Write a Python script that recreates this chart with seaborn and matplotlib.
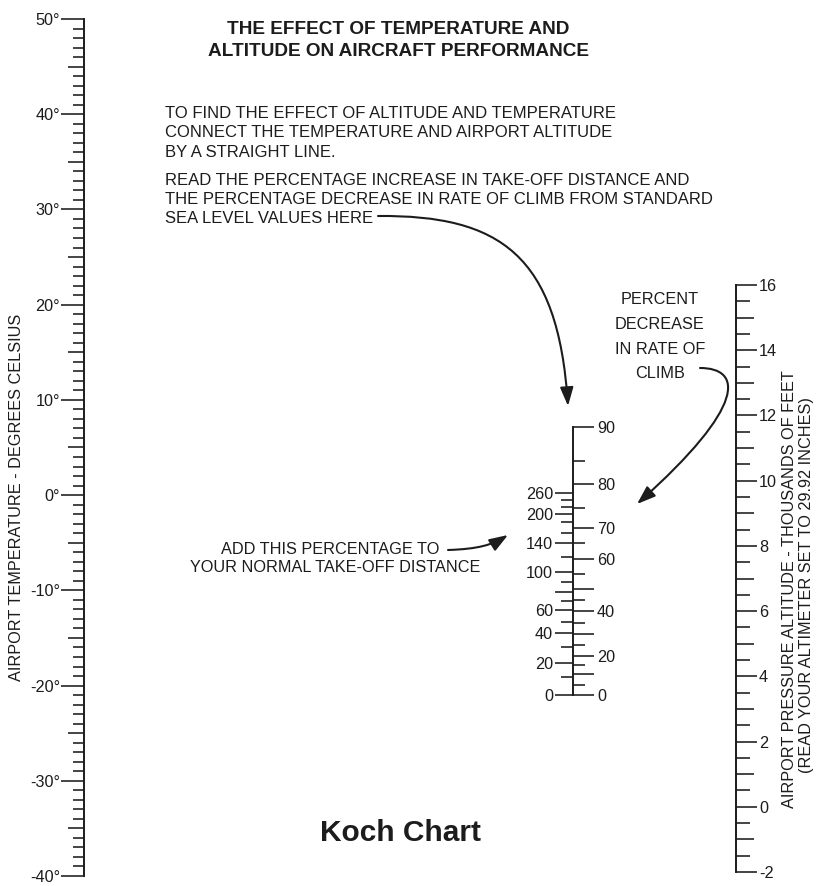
# Koch chart - effect of temperature and altitude on aircraft performance
import numpy as np
import matplotlib.pyplot as plt
import seaborn as sns
from matplotlib.patches import FancyArrowPatch
from matplotlib.path import Path

# ---- scale data ----
# left scale: airport temperature, degrees C
temp_major = [-40, -30, -20, -10, 0, 10, 20, 30, 40, 50]
temp_mid = [-35, -25, -15, -5, 5, 15, 25, 35, 45]
temp_minor = [t for t in range(-40, 51) if t % 5 != 0]

# right scale: pressure altitude, thousands of feet
alt_major = [-2, 0, 2, 4, 6, 8, 10, 12, 14, 16]
alt_mid = [-1, 1, 3, 5, 7, 9, 11, 13, 15]
alt_minor = [a + 0.5 for a in range(-2, 16)]

# middle scale: each mark's place given as equivalent density altitude (thousands of ft)
climb_pct = [0, 5, 10, 15, 20, 25, 30, 35, 40, 45, 50, 55, 60, 65, 70, 75, 80, 85, 90]
climb_alt = [0.0, 0.5, 1.05, 1.5, 2.0, 2.55, 3.1, 3.65, 4.25, 4.8, 5.4, 6.15,
             6.9, 7.7, 8.5, 9.5, 10.7, 11.9, 13.6]
climb_labeled = [0, 20, 40, 60, 70, 80, 90]

takeoff_pct = [0, 10, 20, 30, 40, 50, 60, 70, 80, 90, 100, 120, 140, 160, 180,
               200, 220, 240, 260]
takeoff_alt = [0.0, 0.9, 1.62, 2.43, 3.14, 3.7, 4.31, 4.77, 5.22, 5.73, 6.24,
               7.0, 7.71, 8.21, 8.77, 9.18, 9.55, 9.9, 10.24]
takeoff_labeled = [0, 20, 40, 60, 100, 140, 200, 260]
takeoff_long = [0, 20, 40, 60, 80, 100, 140, 200, 260]

INK = "#1c1c1c"
FS = 11.7
W, H = 818, 886
PX = 0.72  # points per pixel at dpi 100

sns.set_theme(style="white")
plt.rcParams["font.family"] = ["Liberation Sans", "DejaVu Sans"]

fig = plt.figure(figsize=(W / 100, H / 100), dpi=100)


def scale_axes(x, y_top, y_bot, lim, spine):
    ax = fig.add_axes([x / W, 1 - y_bot / H, 1e-4, (y_bot - y_top) / H])
    ax.set_ylim(*lim)
    ax.set_xticks([])
    ax.set_yticks([])
    ax.patch.set_visible(False)
    sns.despine(ax=ax, top=True, bottom=True,
                left=(spine != "left"), right=(spine != "right"))
    ax.spines[spine].set_visible(True)
    ax.spines[spine].set_linewidth(1.4)
    ax.spines[spine].set_color(INK)
    return ax


def add_ticks(ax, side, values, length, labels=None, pad=2):
    # length and pad in pixels
    t = ax.twinx()
    t.set_ylim(ax.get_ylim())
    t.set_xticks([])
    t.patch.set_visible(False)
    for s in t.spines.values():
        s.set_visible(False)
    t.minorticks_off()
    t.set_yticks(values, labels if labels is not None else [""] * len(values))
    t.tick_params(axis="y", which="major", left=(side == "left"),
                  right=(side == "right"), labelleft=(side == "left"),
                  labelright=(side == "right"), length=length * PX, width=1.15,
                  color=INK, labelcolor=INK, labelsize=FS, pad=pad * PX)
    return t


# temperature scale
ax_t = scale_axes(84, 19, 876, (temp_major[0], temp_major[-1]), "left")
add_ticks(ax_t, "left", temp_minor, 11)
add_ticks(ax_t, "left", temp_mid, 16)
add_ticks(ax_t, "left", temp_major, 23, [f"{t}°" for t in temp_major], pad=1)

# altitude scale
ax_h = scale_axes(736, 285, 872, (alt_major[0], alt_major[-1]), "right")
add_ticks(ax_h, "right", alt_minor, 14)
add_ticks(ax_h, "right", alt_mid, 18)
add_ticks(ax_h, "right", alt_major, 21, [str(a) for a in alt_major], pad=2)

# middle scale
ax_m = scale_axes(573, 427, 695, (0, climb_alt[-1]), "left")
cl = dict(zip(climb_pct, climb_alt))
to = dict(zip(takeoff_pct, takeoff_alt))
add_ticks(ax_m, "right", [cl[p] for p in climb_pct if p % 10], 12)
add_ticks(ax_m, "right", [cl[p] for p in climb_pct if p % 10 == 0], 21,
          [str(p) if p in climb_labeled else "" for p in climb_pct if p % 10 == 0], pad=3)
add_ticks(ax_m, "left", [to[p] for p in takeoff_pct if p not in takeoff_long], 12)
add_ticks(ax_m, "left", [to[p] for p in takeoff_long], 18,
          [str(p) if p in takeoff_labeled else "" for p in takeoff_long], pad=2)

# text and arrows on a full-figure overlay
ax_bg = fig.add_axes([0, 0, 1, 1], zorder=-1)
ax_bg.set_xlim(0, W)
ax_bg.set_ylim(H, 0)
ax_bg.axis("off")

txt = dict(color=INK, fontsize=FS, va="center")
ax_bg.text(398, 29, "THE EFFECT OF TEMPERATURE AND", ha="center", color=INK,
           fontsize=13.7, fontweight="bold", va="center")
ax_bg.text(398, 51, "ALTITUDE ON AIRCRAFT PERFORMANCE", ha="center", color=INK,
           fontsize=13.7, fontweight="bold", va="center")

lines = ["TO FIND THE EFFECT OF ALTITUDE AND TEMPERATURE",
         "CONNECT THE TEMPERATURE AND AIRPORT ALTITUDE",
         "BY A STRAIGHT LINE."]
for i, s in enumerate(lines):
    ax_bg.text(165, 113 + 19.5 * i, s, ha="left", color=INK, fontsize=12, va="center")
lines = ["READ THE PERCENTAGE INCREASE IN TAKE-OFF DISTANCE AND",
         "THE PERCENTAGE DECREASE IN RATE OF CLIMB FROM STANDARD",
         "SEA LEVEL VALUES HERE"]
for i, s in enumerate(lines):
    ax_bg.text(165, 180 + 19 * i, s, ha="left", color=INK, fontsize=12, va="center")

for i, s in enumerate(["PERCENT", "DECREASE", "IN RATE OF", "CLIMB"]):
    ax_bg.text(660, 300 + 24.5 * i, s, ha="center", **txt)

ax_bg.text(330, 550, "ADD THIS PERCENTAGE TO", ha="center", **txt)
ax_bg.text(335, 568, "YOUR NORMAL TAKE-OFF DISTANCE", ha="center", **txt)

ax_bg.text(17, 497, "AIRPORT TEMPERATURE - DEGREES CELSIUS", ha="center",
           rotation=90, **txt)
ax_bg.text(790, 589, "AIRPORT PRESSURE ALTITUDE - THOUSANDS OF FEET",
           ha="center", rotation=90, **txt)
ax_bg.text(806, 585, "(READ YOUR ALTIMETER SET TO 29.92 INCHES)",
           ha="center", rotation=90, **txt)

ax_bg.text(400, 833, "Koch Chart", ha="center", va="center", color=INK,
           fontsize=21.5, fontweight="bold")


def curved_arrow(p0, p1, p2, p3):
    path = Path([p0, p1, p2, p3], [Path.MOVETO, Path.CURVE4, Path.CURVE4, Path.CURVE4])
    arr = FancyArrowPatch(path=path, arrowstyle="-|>,head_length=0.45,head_width=0.16",
                          mutation_scale=25, lw=1.5, color=INK)
    ax_bg.add_patch(arr)


curved_arrow((378, 216), (500, 215), (558, 255), (568, 406))
curved_arrow((700, 368), (742, 368), (748, 405), (637, 504))
curved_arrow((448, 550), (478, 549), (492, 545), (508, 535))

fig.savefig("out.png", dpi=100, facecolor="white")
